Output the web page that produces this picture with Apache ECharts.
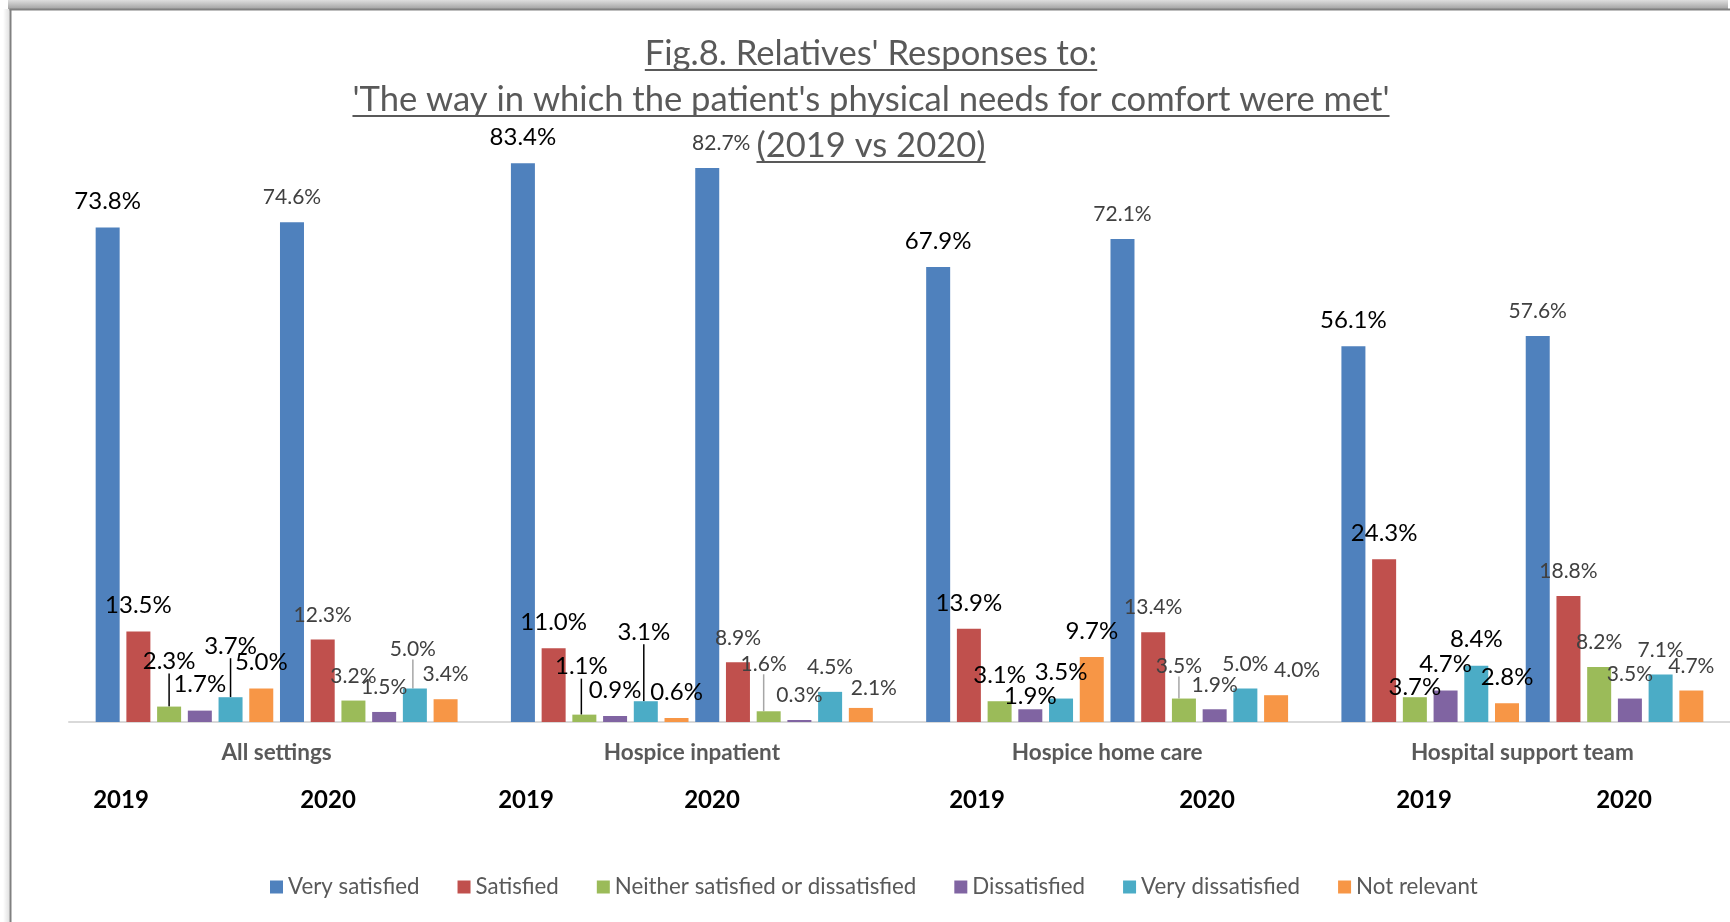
<!DOCTYPE html>
<html>
<head>
<meta charset="utf-8">
<script src="https://cdn.jsdelivr.net/npm/echarts@6/dist/echarts.min.js"></script>
<style>
  html, body { margin: 0; padding: 0; background: #fff; }
  #chart { width: 1730px; height: 922px; }
</style>
</head>
<body>
<div id="chart"></div>
<script>
// Categories
const settings = ['All settings', 'Hospice inpatient', 'Hospice home care', 'Hospital support team'];
const years = ['2019', '2020'];
const responses = ['Very satisfied', 'Satisfied', 'Neither satisfied or dissatisfied',
                   'Dissatisfied', 'Very dissatisfied', 'Not relevant'];

// Percent of relatives per response, one value per setting (same order as `settings`)
const verySatisfied2019    = [73.8, 83.4, 67.9, 56.1];
const verySatisfied2020    = [74.6, 82.7, 72.1, 57.6];
const satisfied2019        = [13.5, 11.0, 13.9, 24.3];
const satisfied2020        = [12.3, 8.9, 13.4, 18.8];
const neither2019          = [2.3, 1.1, 3.1, 3.7];
const neither2020          = [3.2, 1.6, 3.5, 8.2];
const dissatisfied2019     = [1.7, 0.9, 1.9, 4.7];
const dissatisfied2020     = [1.5, 0.3, 1.9, 3.5];
const veryDissatisfied2019 = [3.7, 3.1, 3.5, 8.4];
const veryDissatisfied2020 = [5.0, 4.5, 5.0, 7.1];
const notRelevant2019      = [5.0, 0.6, 9.7, 2.8];
const notRelevant2020      = [3.4, 2.1, 4.0, 4.7];

const valuesByYear = {
  '2019': [verySatisfied2019, satisfied2019, neither2019, dissatisfied2019, veryDissatisfied2019, notRelevant2019],
  '2020': [verySatisfied2020, satisfied2020, neither2020, dissatisfied2020, veryDissatisfied2020, notRelevant2020]
};

// ---- presentation ----
const FONT = 'Lato, "Noto Sans", sans-serif';
const colors = ['#4F81BD', '#C0504D', '#9BBB59', '#8064A2', '#4BACC6', '#F79646'];

// Hand-placed data labels: key "year-response-setting" -> [dx, dy, leader line]
const labelShift = {
  '2019-2-0': [0, -19, true], '2019-4-0': [0, -25, true], '2020-4-0': [-2, -15, true],
  '2019-2-1': [-3, -22, true], '2019-4-1': [-2, -43, true],
  '2020-0-1': [14, 0], '2020-2-1': [-5, -23, true], '2020-5-1': [13, 5],
  '2019-3-2': [0, 13], '2020-2-2': [-5, -8, true], '2020-5-2': [21, 0],
  '2019-2-3': [0, 16]
};

// Year captions under each setting (x in px)
const yearCaptionX = [121, 328, 526, 712, 977, 1207, 1424, 1624];

const series = [];
years.forEach((yr, yi) => {
  responses.forEach((name, ri) => {
    const vals = valuesByYear[yr][ri];
    series.push({
      type: 'bar',
      name: name,
      barWidth: 24,
      barGap: '28%',
      itemStyle: { color: colors[ri] },
      data: vals.map((v, si) => {
        const s = labelShift[yr + '-' + ri + '-' + si];
        return (s && s[2]) ? { value: v, labelLine: { show: true } } : v;
      }),
      label: {
        show: true,
        position: 'top',
        distance: 14,
        formatter: p => p.value.toFixed(1) + '%',
        color: yi ? '#404040' : '#000000',
        fontSize: yi ? 21 : 24,
        fontFamily: FONT
      },
      labelLine: {
        show: false,
        lineStyle: { color: yi ? '#a6a6a6' : '#000000', width: 1.5 }
      },
      labelLayout: p => {
        const s = labelShift[yr + '-' + ri + '-' + p.dataIndex];
        return s ? { dx: s[0], dy: s[1] } : {};
      }
    });
  });
});

// Title lines with underline
const titleLines = ["Fig.8. Relatives' Responses to:",
                    "'The way in which the patient's physical needs for comfort were met'",
                    "(2019 vs 2020)"];
const titleFontSize = 34.6;
const titleFont = titleFontSize + 'px ' + FONT;
const measureCtx = document.createElement('canvas').getContext('2d');
measureCtx.font = titleFont;
const titleCenterX = 871;
const titleBaselines = [66, 112, 158];

const graphics = [];
// frame: top shaded band and left border
graphics.push({
  type: 'rect', silent: true, z: 10,
  shape: { x: 8, y: 0, width: 1720, height: 9 },
  style: { fill: new echarts.graphic.LinearGradient(0, 0, 0, 1, [
    { offset: 0, color: '#dedede' }, { offset: 1, color: '#a2a2a2' }]) }
});
graphics.push({
  type: 'rect', silent: true, z: 10,
  shape: { x: 9.5, y: 8.5, width: 1720.5, height: 2 },
  style: { fill: '#808080' }
});
graphics.push({
  type: 'rect', silent: true, z: 10,
  shape: { x: 3, y: 9, width: 6.5, height: 913 },
  style: { fill: new echarts.graphic.LinearGradient(0, 0, 1, 0, [
    { offset: 0, color: 'rgba(0,0,0,0)' }, { offset: 1, color: 'rgba(0,0,0,0.12)' }]) }
});
graphics.push({
  type: 'rect', silent: true, z: 10,
  shape: { x: 9.5, y: 9, width: 2, height: 913 },
  style: { fill: '#808080' }
});

titleLines.forEach((t, i) => {
  const w = measureCtx.measureText(t).width;
  graphics.push({
    type: 'text', silent: true,
    style: {
      text: t, x: titleCenterX, y: titleBaselines[i] - titleFontSize * 0.36,
      align: 'center', verticalAlign: 'middle',
      textAlign: 'center', textVerticalAlign: 'middle',
      font: titleFont, fill: '#595959'
    }
  });
  graphics.push({
    type: 'rect', silent: true,
    shape: { x: titleCenterX - w / 2, y: titleBaselines[i] + 3, width: w, height: 2 },
    style: { fill: '#595959' }
  });
});

yearCaptionX.forEach((x, i) => {
  graphics.push({
    type: 'text', silent: true,
    style: {
      text: years[i % 2], x: x, y: 800,
      align: 'center', verticalAlign: 'middle',
      textAlign: 'center', textVerticalAlign: 'middle',
      font: 'bold 24px ' + FONT, fill: '#000000'
    }
  });
});

const chart = echarts.init(document.getElementById('chart'), null, { renderer: 'canvas' });
chart.setOption({
  animation: false,
  backgroundColor: '#ffffff',
  grid: { left: 69, top: 52, width: 1664, height: 670, containLabel: false },
  xAxis: {
    type: 'category',
    data: settings,
    axisLine: { lineStyle: { color: '#d9d9d9', width: 2 } },
    axisTick: { show: false },
    axisLabel: { margin: 19, fontSize: 22.5, fontWeight: 'bold', color: '#595959', fontFamily: FONT }
  },
  yAxis: { type: 'value', min: 0, max: 100, show: false, splitLine: { show: false } },
  legend: {
    data: responses,
    left: 270, top: 876, padding: 0,
    icon: 'rect', itemWidth: 13, itemHeight: 13, itemGap: 38,
    textStyle: { fontSize: 22.3, color: '#595959', fontFamily: FONT }
  },
  graphic: graphics,
  series: series
});
</script>
</body>
</html>
